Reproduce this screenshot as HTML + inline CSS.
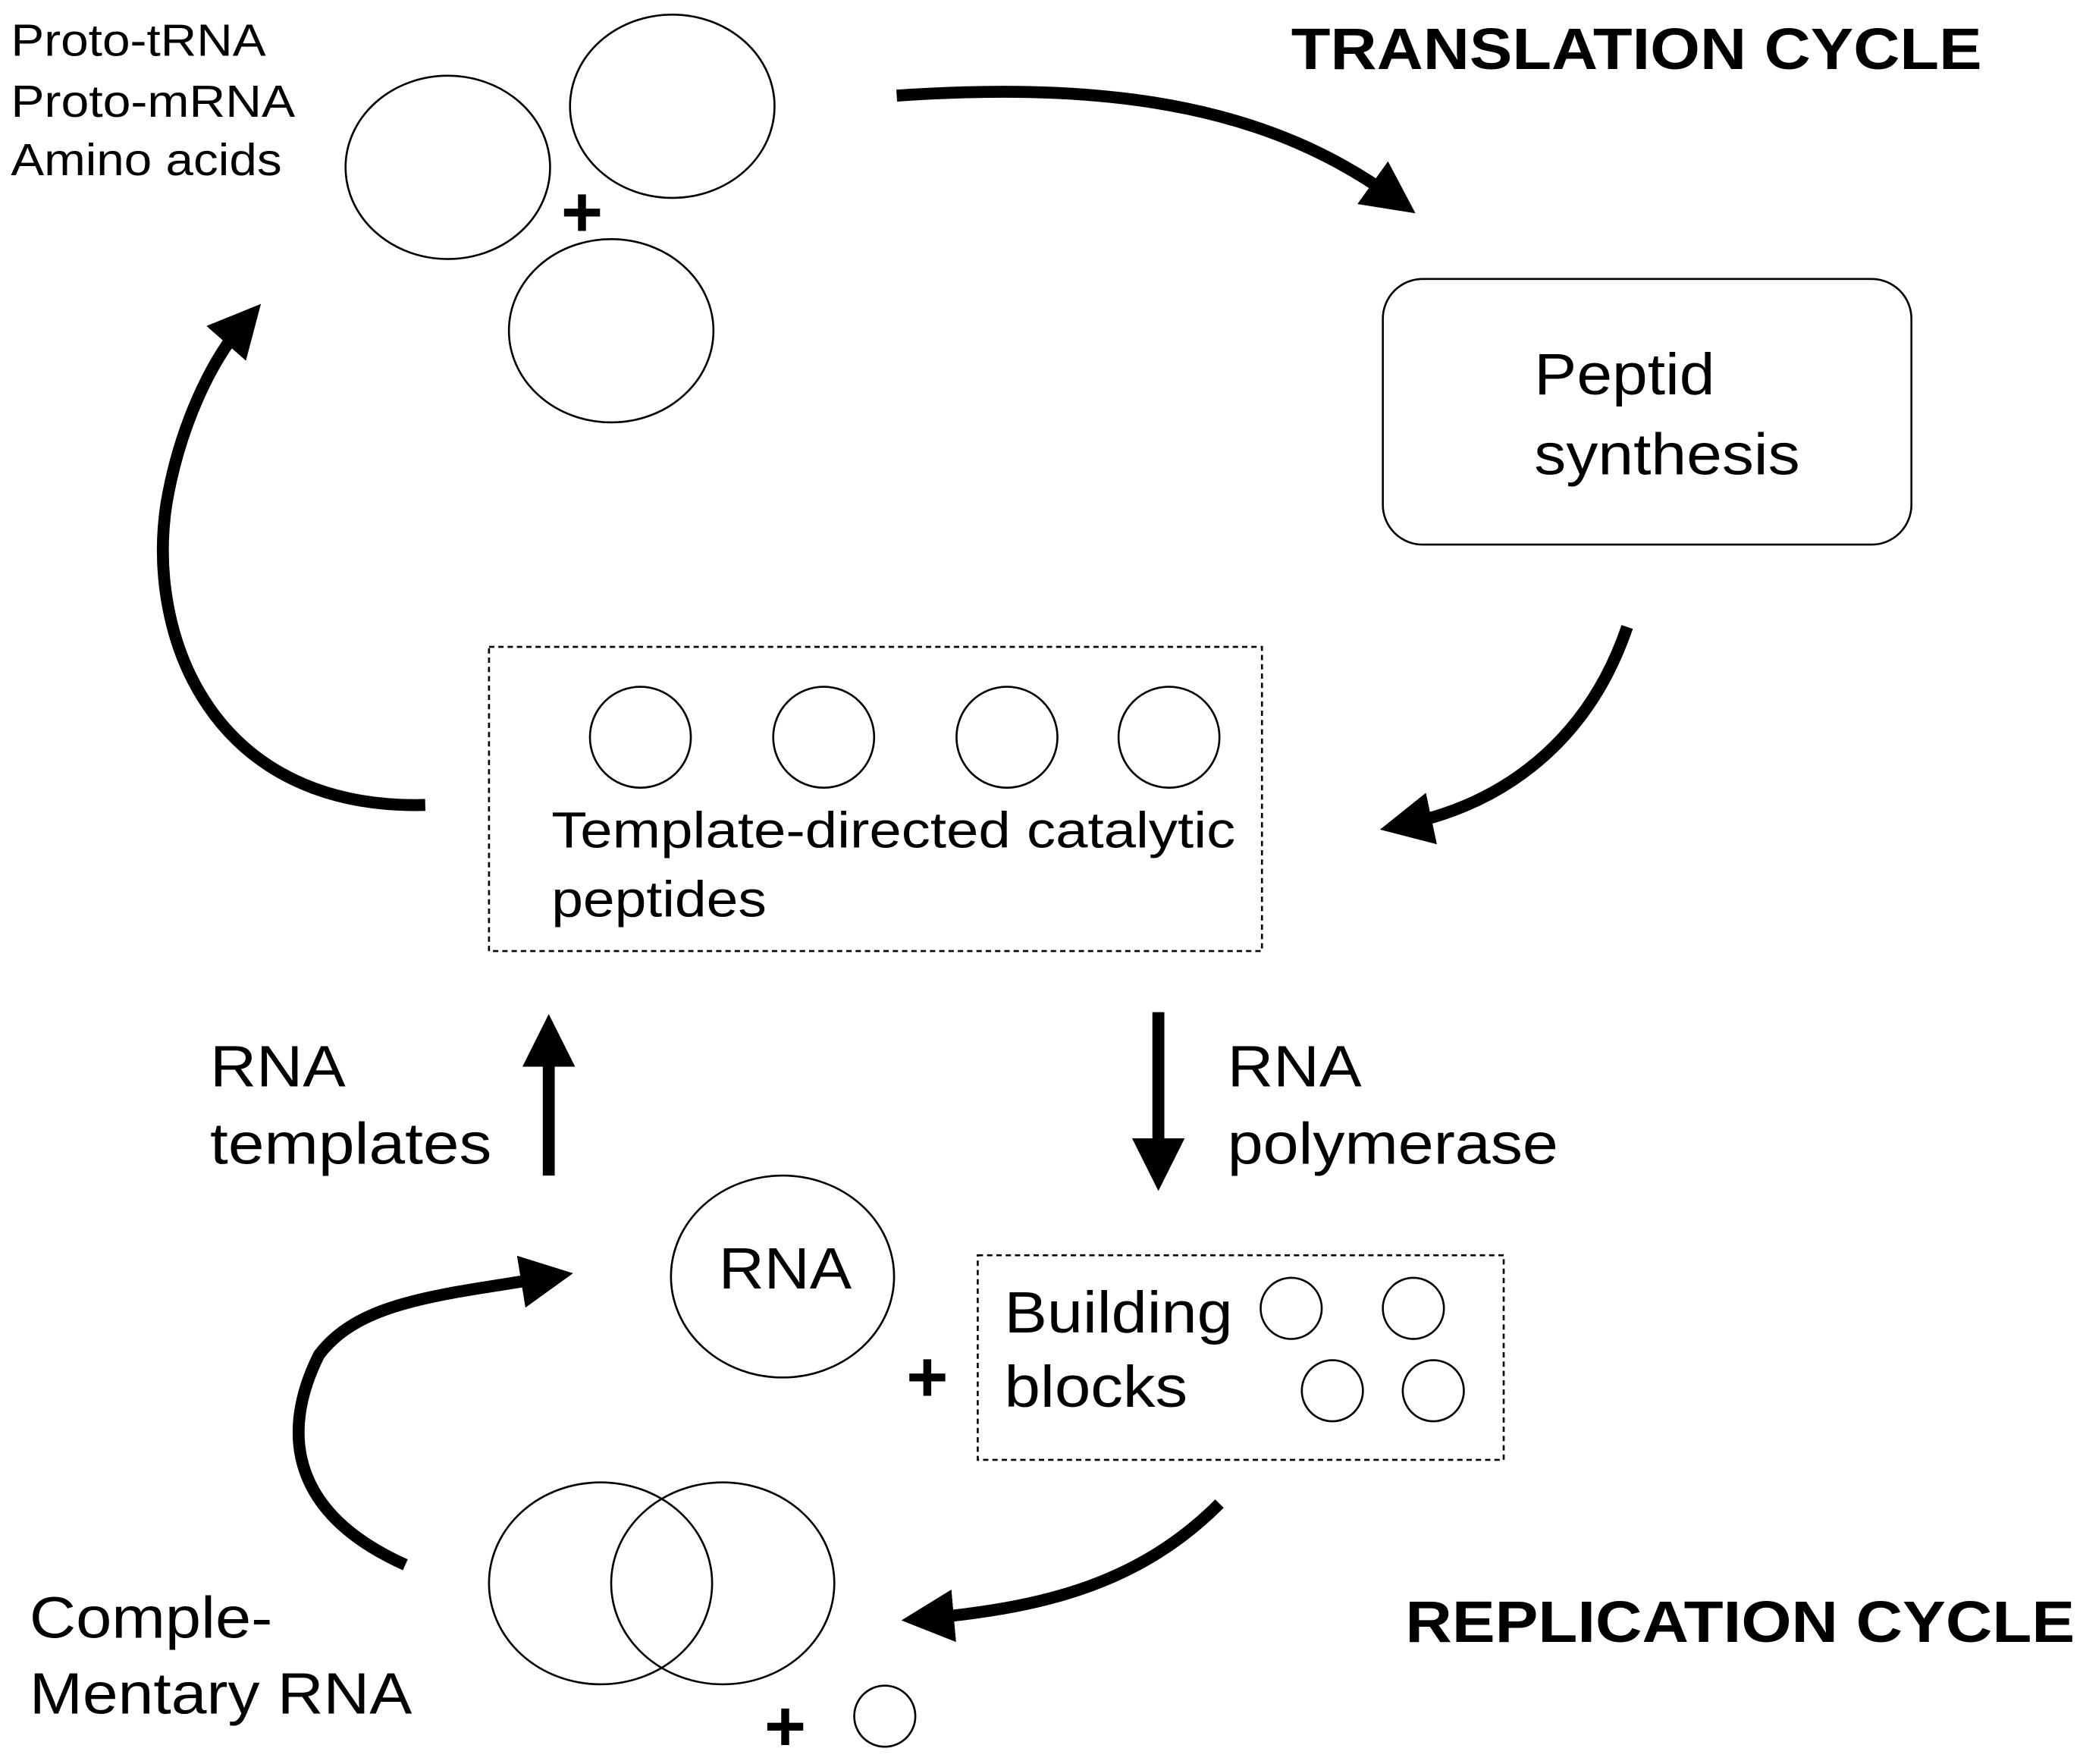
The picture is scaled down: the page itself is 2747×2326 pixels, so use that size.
<!DOCTYPE html>
<html><head><meta charset="utf-8"><style>
html,body{margin:0;padding:0;background:#fff}
svg{display:block}
text{font-family:"Liberation Sans",Arial,sans-serif;fill:#000}
</style></head><body>
<svg width="2747" height="2326" viewBox="0 0 1568 1328" xmlns="http://www.w3.org/2000/svg">
<defs>
<marker id="ah" markerWidth="4.4" markerHeight="4.4" refX="2" refY="2.2" orient="auto" markerUnits="strokeWidth">
<path d="M0,0 L4.4,2.2 L0,4.4 Z" fill="#000"/>
</marker>
</defs>
<g fill="none" stroke="#000" stroke-width="1.5">
<ellipse cx="337" cy="126" rx="77" ry="69"/>
<ellipse cx="506" cy="80" rx="77" ry="69"/>
<ellipse cx="460" cy="249" rx="77" ry="69"/>
<rect x="1041" y="210" width="398" height="200" rx="30"/>
<rect x="368" y="487" width="582" height="229" stroke-dasharray="4,3"/>
<circle cx="482" cy="555" r="38"/><circle cx="620" cy="555" r="38"/>
<circle cx="758" cy="555" r="38"/><circle cx="880" cy="555" r="38"/>
<ellipse cx="589" cy="961" rx="84" ry="76"/>
<rect x="736" y="945" width="396" height="154" stroke-dasharray="4,3"/>
<circle cx="972" cy="985" r="23"/><circle cx="1064" cy="985" r="23"/>
<circle cx="1003" cy="1047" r="23"/><circle cx="1079" cy="1047" r="23"/>
<ellipse cx="452" cy="1192" rx="84" ry="76"/>
<ellipse cx="544" cy="1192" rx="84" ry="76"/>
<circle cx="666" cy="1292" r="23"/>
</g>
<g fill="none" stroke="#000" stroke-width="9" marker-end="url(#ah)">
<path d="M675,72 C850,60 960,85 1048,148"/>
<path d="M1225,472 C1195,560 1130,605 1060,620"/>
<path d="M320,606 C160,610 110,480 125,380 C135,320 160,270 182,245"/>
<path d="M413,885 L413,785"/>
<path d="M872,762 L872,875"/>
<path d="M918,1132 C860,1190 790,1210 700,1218"/>
<path d="M305,1178 C220,1140 210,1080 240,1020 C270,980 330,975 410,962"/>
</g>
<g font-size="34" lengthAdjust="spacingAndGlyphs">
<text x="8" y="42" textLength="192" lengthAdjust="spacingAndGlyphs">Proto-tRNA</text>
<text x="8" y="88" textLength="214" lengthAdjust="spacingAndGlyphs">Proto-mRNA</text>
<text x="8" y="132" textLength="204" lengthAdjust="spacingAndGlyphs">Amino acids</text>
</g>
<text x="438" y="178" font-size="54" font-weight="bold" text-anchor="middle">+</text>
<text x="972" y="52" font-size="44" font-weight="bold" textLength="520" lengthAdjust="spacingAndGlyphs">TRANSLATION CYCLE</text>
<text x="1155" y="297" font-size="44" textLength="136" lengthAdjust="spacingAndGlyphs">Peptid</text>
<text x="1155" y="357" font-size="44" textLength="200" lengthAdjust="spacingAndGlyphs">synthesis</text>
<text x="415" y="638" font-size="38" textLength="515" lengthAdjust="spacingAndGlyphs">Template-directed catalytic</text>
<text x="415" y="690" font-size="38" textLength="162" lengthAdjust="spacingAndGlyphs">peptides</text>
<text x="158" y="818" font-size="44" textLength="102" lengthAdjust="spacingAndGlyphs">RNA</text>
<text x="158" y="876" font-size="44" textLength="212" lengthAdjust="spacingAndGlyphs">templates</text>
<text x="924" y="818" font-size="44" textLength="101" lengthAdjust="spacingAndGlyphs">RNA</text>
<text x="924" y="876" font-size="44" textLength="249" lengthAdjust="spacingAndGlyphs">polymerase</text>
<text x="541" y="970" font-size="44" textLength="100" lengthAdjust="spacingAndGlyphs">RNA</text>
<text x="698" y="1055" font-size="54" font-weight="bold" text-anchor="middle">+</text>
<text x="756" y="1003" font-size="44" textLength="172" lengthAdjust="spacingAndGlyphs">Building</text>
<text x="756" y="1059" font-size="44" textLength="138" lengthAdjust="spacingAndGlyphs">blocks</text>
<text x="591" y="1318" font-size="54" font-weight="bold" text-anchor="middle">+</text>
<text x="1058" y="1236" font-size="44" font-weight="bold" textLength="504" lengthAdjust="spacingAndGlyphs">REPLICATION CYCLE</text>
<text x="22" y="1233" font-size="44" textLength="183" lengthAdjust="spacingAndGlyphs">Comple-</text>
<text x="22" y="1290" font-size="44" textLength="288" lengthAdjust="spacingAndGlyphs">Mentary RNA</text>
</svg>
</body></html>
